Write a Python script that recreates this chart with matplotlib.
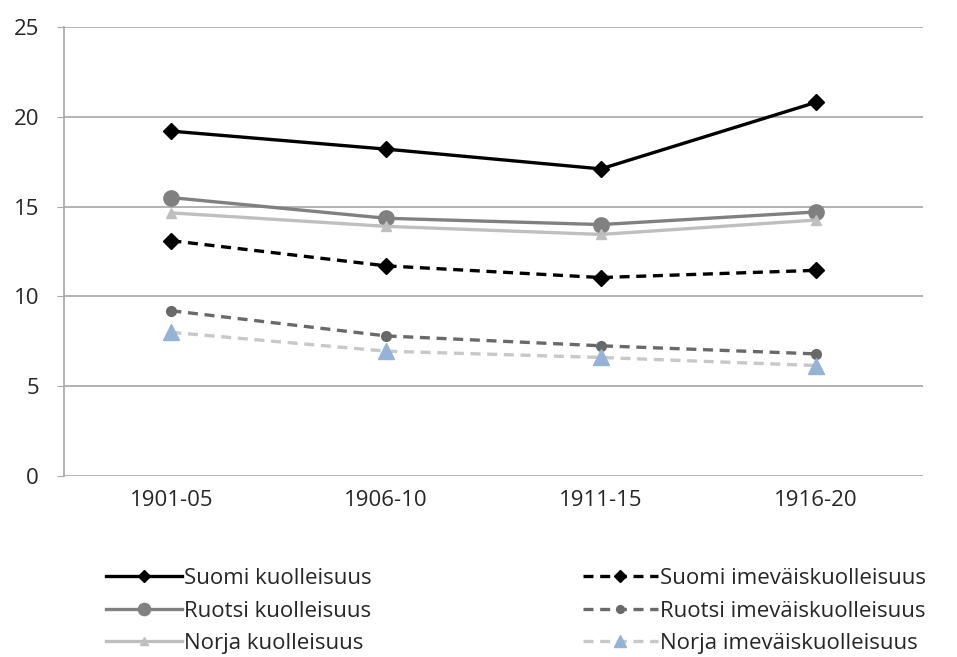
import matplotlib.pyplot as plt

# Aineisto (luettu kuvasta)
periods = ["1901-05", "1906-10", "1911-15", "1916-20"]
suomi_k = [19.2, 18.2, 17.1, 20.8]
ruotsi_k = [15.5, 14.35, 14.0, 14.7]
norja_k = [14.65, 13.9, 13.45, 14.25]
suomi_i = [13.1, 11.7, 11.05, 11.45]
ruotsi_i = [9.2, 7.8, 7.25, 6.8]
norja_i = [8.0, 6.95, 6.6, 6.15]

plt.rcParams['font.family'] = ['Open Sans', 'DejaVu Sans']

fig = plt.figure(figsize=(9.57, 6.57), dpi=100)
ax = fig.add_axes([0.0669, 0.2755, 0.8976, 0.6834])

x = range(len(periods))
ax.plot(x, suomi_k, color="black", lw=2.4, marker="D", ms=8, label="Suomi kuolleisuus")
ax.plot(x, ruotsi_k, color="#808080", lw=2.4, marker="o", ms=11, label="Ruotsi kuolleisuus")
ax.plot(x, norja_k, color="#bfbfbf", lw=2.4, marker="^", ms=7, label="Norja kuolleisuus")
ax.plot(x, suomi_i, color="black", lw=2.4, ls=(0, (3, 2)), marker="D", ms=8, label="Suomi imeväiskuolleisuus")
ax.plot(x, ruotsi_i, color="#696969", lw=2.4, ls=(0, (3, 2)), marker="o", ms=7, label="Ruotsi imeväiskuolleisuus")
ax.plot(x, norja_i, color="#c8c8c8", lw=2.4, ls=(0, (3, 2)), marker="^", ms=11,
        mfc="#95b3d7", mec="#95b3d7", label="Norja imeväiskuolleisuus")

ax.set_xlim(-0.5, 3.5)
ax.set_ylim(0, 25)
ax.set_yticks([0, 5, 10, 15, 20, 25])
ax.set_xticks(list(x))
ax.set_xticklabels(periods)
ax.grid(axis="y", color="#a6a6a6", lw=1.2)
ax.set_axisbelow(True)
for s in ["top", "right", "bottom"]:
    ax.spines[s].set_visible(False)
ax.spines["left"].set_color("#a6a6a6")
ax.spines["left"].set_linewidth(1.2)
ax.tick_params(axis="y", length=5, color="#a6a6a6", labelsize=16, pad=13, labelcolor="#262626")
ax.tick_params(axis="x", length=0, labelsize=16, pad=10, labelcolor="#262626")

fig.legend(loc="lower left", bbox_to_anchor=(0.09, -0.026), ncol=2, frameon=False,
           fontsize=16, columnspacing=9.5, handlelength=3.4, handletextpad=0.1,
           labelspacing=0.52, markerscale=0.8, labelcolor="#262626")

fig.savefig("out.png", dpi=100)
